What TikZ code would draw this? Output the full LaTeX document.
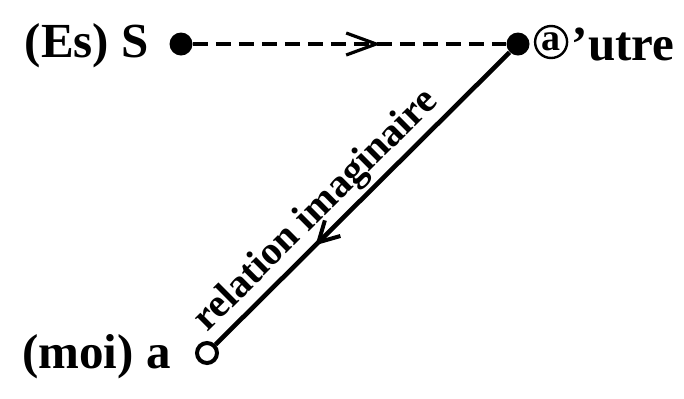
\documentclass[tikz,border=0pt]{standalone}
\usepackage{fontspec}
\setmainfont{Liberation Serif}
\usetikzlibrary{arrows.meta,positioning,decorations.markings}

\begin{document}
\begin{tikzpicture}[x=0.5pt, y=-0.5pt,
    dot/.style={circle, fill=black, minimum size=11.5pt, inner sep=0pt},
    hole/.style={circle, draw=black, line width=2pt, fill=white, minimum size=10pt, inner sep=0pt},
    label/.style={font=\fontsize{24.5}{28}\selectfont\bfseries, inner sep=0pt},
    slant/.style={font=\fontsize{20}{23}\selectfont\bfseries, inner sep=1.5pt},
    ring/.style={circle, draw, line width=1.2pt, inner sep=0pt, minimum size=16pt,
        font=\fontsize{19}{22}\selectfont\bfseries},
    dashline/.style={line width=2pt, dash pattern=on 7.5pt off 4pt},
    solidline/.style={line width=2.3pt},
    midarrow/.style 2 args={postaction={decorate}, decoration={markings,
        mark=at position #1 with {\arrow{#2}}}},
]
\useasboundingbox (0,0) rectangle (684,398);

% Points
\node[dot] (S) at (181,44) {};
\node[dot] (A) at (518,44) {};
\node[hole] (a) at (207,353) {};

% Labels
\node[label, left=10pt of S, yshift=-1pt] (es) {(Es) S};
\node[ring, right=2pt of A, yshift=1pt] (ring) {\raisebox{0.5pt}{a}};
\node[label, right=1.5pt of ring, yshift=-1pt] (utre) {'utre};
\node[label, left=12pt of a, yshift=-2pt] (moi) {(moi) a};

% Relations
\draw[dashline, midarrow={0.6}{Straight Barb[length=15pt, width=11pt, line width=1.6pt]}] (S) -- (A);
\draw[solidline, midarrow={0.66}{Straight Barb[length=10pt, width=11pt, line width=2pt]}] (A) -- (a)
  node[slant, pos=0.6, sloped, above] (rel) {relation imaginaire};

\end{tikzpicture}
\end{document}
